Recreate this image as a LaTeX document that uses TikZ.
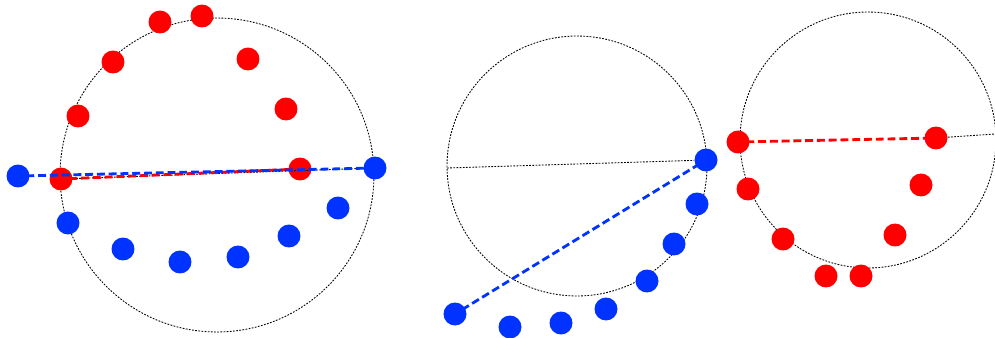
\documentclass[tikz,border=0pt]{standalone}
\definecolor{dotred}{RGB}{255,0,0}
\definecolor{dotblue}{RGB}{0,51,255}
\begin{document}
\begin{tikzpicture}[x=0.02cm, y=-0.02cm,
    rim/.style={black, line width=0.5pt, dash pattern=on 1pt off 0.8pt},
    reddot/.style={circle, fill=dotred, inner sep=0pt, minimum size=0.46cm},
    bluedot/.style={circle, fill=dotblue, inner sep=0pt, minimum size=0.46cm},
    redlink/.style={dotred, line width=1.6pt, dash pattern=on 4.5pt off 2.2pt, shorten <=-2pt, shorten >=-2pt},
    bluelink/.style={dotblue, line width=1.6pt, dash pattern=on 4.5pt off 2.2pt, shorten <=-2pt, shorten >=-2pt}]
    \useasboundingbox (0,0) rectangle (995,338);

    % first circle: both colours
    \draw[rim] (217,175) circle [radius=3.14cm];
    \foreach \px/\py/\nm in {160/22/la, 202/16/lb, 113/62/lc, 248/59/ld,
                             78/116/le, 286/109/lf, 300/169/lg, 61/179/lh}
        \node[reddot] (\nm) at (\px,\py) {};
    \foreach \px/\py/\nm in {18/176/ma, 375/168/mb, 68/223/mc, 123/249/md,
                             180/262/me, 238/257/mf, 289/236/mg, 338/208/mh}
        \node[bluedot] (\nm) at (\px,\py) {};
    \draw[rim] (lh) -- (mb);
    \draw[redlink] (lh) -- (lg);
    \draw[bluelink] (ma) -- (mb);

    % second circle: blue only
    \draw[rim] (577,166) circle [radius=2.6cm];
    \coordinate (pleft) at (447,168);
    \foreach \px/\py/\nm in {706/160/pa, 697/204/pb, 674/244/pc, 647/281/pd,
                             606/309/pe, 561/323/pf, 510/327/pg, 455/314/ph}
        \node[bluedot] (\nm) at (\px,\py) {};
    \draw[rim] (pleft) -- (pa);
    \draw[bluelink] (ph) -- (pa);

    % third circle: red only
    \draw[rim] (868,140) circle [radius=2.56cm];
    \coordinate (qright) at (995,134);
    \foreach \px/\py/\nm in {738/142/qa, 936/138/qb, 748/189/qc, 921/185/qd,
                             783/239/qe, 895/235/qf, 826/276/qg, 861/276/qh}
        \node[reddot] (\nm) at (\px,\py) {};
    \draw[rim] (qb) -- (qright);
    \draw[redlink] (qa) -- (qb);
\end{tikzpicture}
\end{document}
